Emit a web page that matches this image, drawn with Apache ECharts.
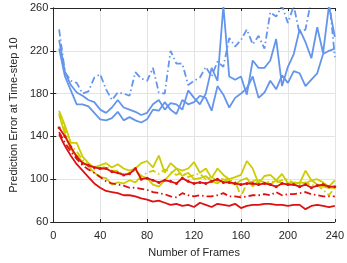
<!DOCTYPE html>
<html><head><meta charset="utf-8">
<script src="https://cdn.jsdelivr.net/npm/echarts@6/dist/echarts.min.js"></script>
<style>html,body{margin:0;padding:0;background:#fff}#c{width:347px;height:263px}</style>
</head><body><div id="c"></div>
<script>
// Number of frames (x)
const frames = [];
for (let i = 5; i <= 240; i += 5) frames.push(i);
const xTicks = [0, 40, 80, 120, 160, 200, 240];
const yTicks = [60, 100, 140, 180, 220, 260];

// Blue
const blueSolidA = [222,196,183,170,170,168,162,156,155,157,163,155,158,155,153,156,165,164,172,165,161,174,170,172,178,176,164,187,179,167,176,180,185,196,176,181,192,184,197,190,201,199,187,193,199,217,220,222];
const blueSolidB = [230,200,188,181,178,174,172,165,162,167,174,167,165,163,160,162,170,174,165,171,170,165,183,176,170,180,204,192,262,196,193,196,179,211,204,204,211,231,187,205,217,240,228,213,242,218,262,233];
const blueDashDot = [240,200,192,190,180,182,195,198,184,174,181,180,178,200,194,192,204,181,180,220,208,208,188,192,195,205,196,210,205,232,224,230,240,226,234,222,256,252,262,246,262,236,240,268,270,266,272,214];
// Yellow
const yellowSolidA = [164,150,134,134,121,115,111,113,115,111,114,110,108,110,115,117,111,122,106,115,110,108,110,116,106,110,101,110,104,100,102,104,117,110,96,103,104,99,105,96,97,96,108,99,100,97,93,99];
const yellowSolidB = [160,142,128,122,116,112,106,102,101,95,97,96,99,97,103,101,95,93,99,105,110,103,106,100,101,103,98,96,100,97,95,99,101,93,99,97,95,99,96,95,95,97,96,99,95,93,92,92];
const yellowDashDot = [162,146,131,126,118,113,109,110,112,108,108,104,106,108,103,106,108,105,109,107,104,106,102,104,105,100,102,98,101,99,98,84,96,98,100,96,98,97,99,100,96,95,97,94,95,90,85,92];
// Red
const redSolidTop = [148,140,130,121,115,113,111,110,110,107,106,104,105,110,100,101,99,97,99,98,96,101,98,96,97,96,98,100,97,97,96,95,96,96,95,96,95,93,96,95,95,93,95,92,94,95,93,93];
const redDashDot = [144,134,126,119,113,109,106,102,98,96,95,94,92,92,91,90,88,87,86,84,83,87,85,84,85,84,84,85,87,84,84,83,84,85,85,86,85,88,85,86,86,87,88,86,85,84,84,84];
const redSolidLow = [142,131,122,114,108,102,96,92,89,88,87,85,85,84,82,81,79,80,78,76,77,75,76,74,78,76,74,77,76,75,77,73,75,76,76,77,77,76,76,75,76,76,72,75,76,75,74,75];

const BLUE = '#6495ed', YEL = '#cccc00', RED = '#dd1111';
const DASHDOT = [7, 3, 1.5, 3];
const pair = a => frames.map((f, i) => [f, a[i]]);
function ln(data, color, dashed, w, sym) {
  return {
    type: 'line', data: pair(data), symbol: sym ? 'circle' : 'none', symbolSize: 3,
    showSymbol: !!sym, itemStyle: { color: color },
    lineStyle: { color: color, width: w || 1.8, type: dashed ? DASHDOT : 'solid' },
    clip: true, animation: false, emphasis: { disabled: true }
  };
}
const axisTxt = { fontFamily: 'Liberation Sans, Arial, sans-serif', fontSize: 11, color: '#262626' };
const chart = echarts.init(document.getElementById('c'), null, { renderer: 'canvas' });
chart.setOption({
  animation: false,
  grid: { left: 46, right: 12, top: 8, bottom: 35, show: false },
  xAxis: [{
    type: 'value', min: 0, max: 240, interval: 40,
    name: 'Number of Frames', nameLocation: 'middle', nameGap: 25,
    nameTextStyle: axisTxt,
    axisLine: { show: true, lineStyle: { color: '#262626', width: 1 } },
    axisTick: { show: true, inside: true, length: 3, lineStyle: { color: '#262626' } },
    axisLabel: Object.assign({ margin: 8 }, axisTxt),
    splitLine: { show: true, lineStyle: { color: '#e3e3e3', width: 1 } }
  }, {
    type: 'value', min: 0, max: 240, interval: 40, position: 'top',
    axisLine: { show: true, lineStyle: { color: '#262626', width: 1 } },
    axisTick: { show: true, inside: true, length: 3, lineStyle: { color: '#262626' } },
    axisLabel: { show: false }, splitLine: { show: false }
  }],
  yAxis: [{
    type: 'value', min: 60, max: 260, interval: 40,
    name: 'Prediction Error at Time-step 10', nameLocation: 'middle', nameGap: 31,
    nameTextStyle: axisTxt,
    axisLine: { show: true, lineStyle: { color: '#262626', width: 1 } },
    axisTick: { show: true, inside: true, length: 3, lineStyle: { color: '#262626' } },
    axisLabel: Object.assign({ margin: 5 }, axisTxt),
    splitLine: { show: true, lineStyle: { color: '#e3e3e3', width: 1 } }
  }, {
    type: 'value', min: 60, max: 260, interval: 40, position: 'right',
    axisLine: { show: true, lineStyle: { color: '#262626', width: 1 } },
    axisTick: { show: true, inside: true, length: 3, lineStyle: { color: '#262626' } },
    axisLabel: { show: false }, splitLine: { show: false }
  }],
  series: [
    ln(blueSolidA, BLUE, false), ln(blueSolidB, BLUE, false), ln(blueDashDot, BLUE, true),
    ln(yellowSolidA, YEL, false), ln(yellowSolidB, YEL, false), ln(yellowDashDot, YEL, true),
    ln(redDashDot, RED, true), ln(redSolidLow, RED, false), ln(redSolidTop, RED, false, 1.8, true)
  ]
});
</script></body></html>
